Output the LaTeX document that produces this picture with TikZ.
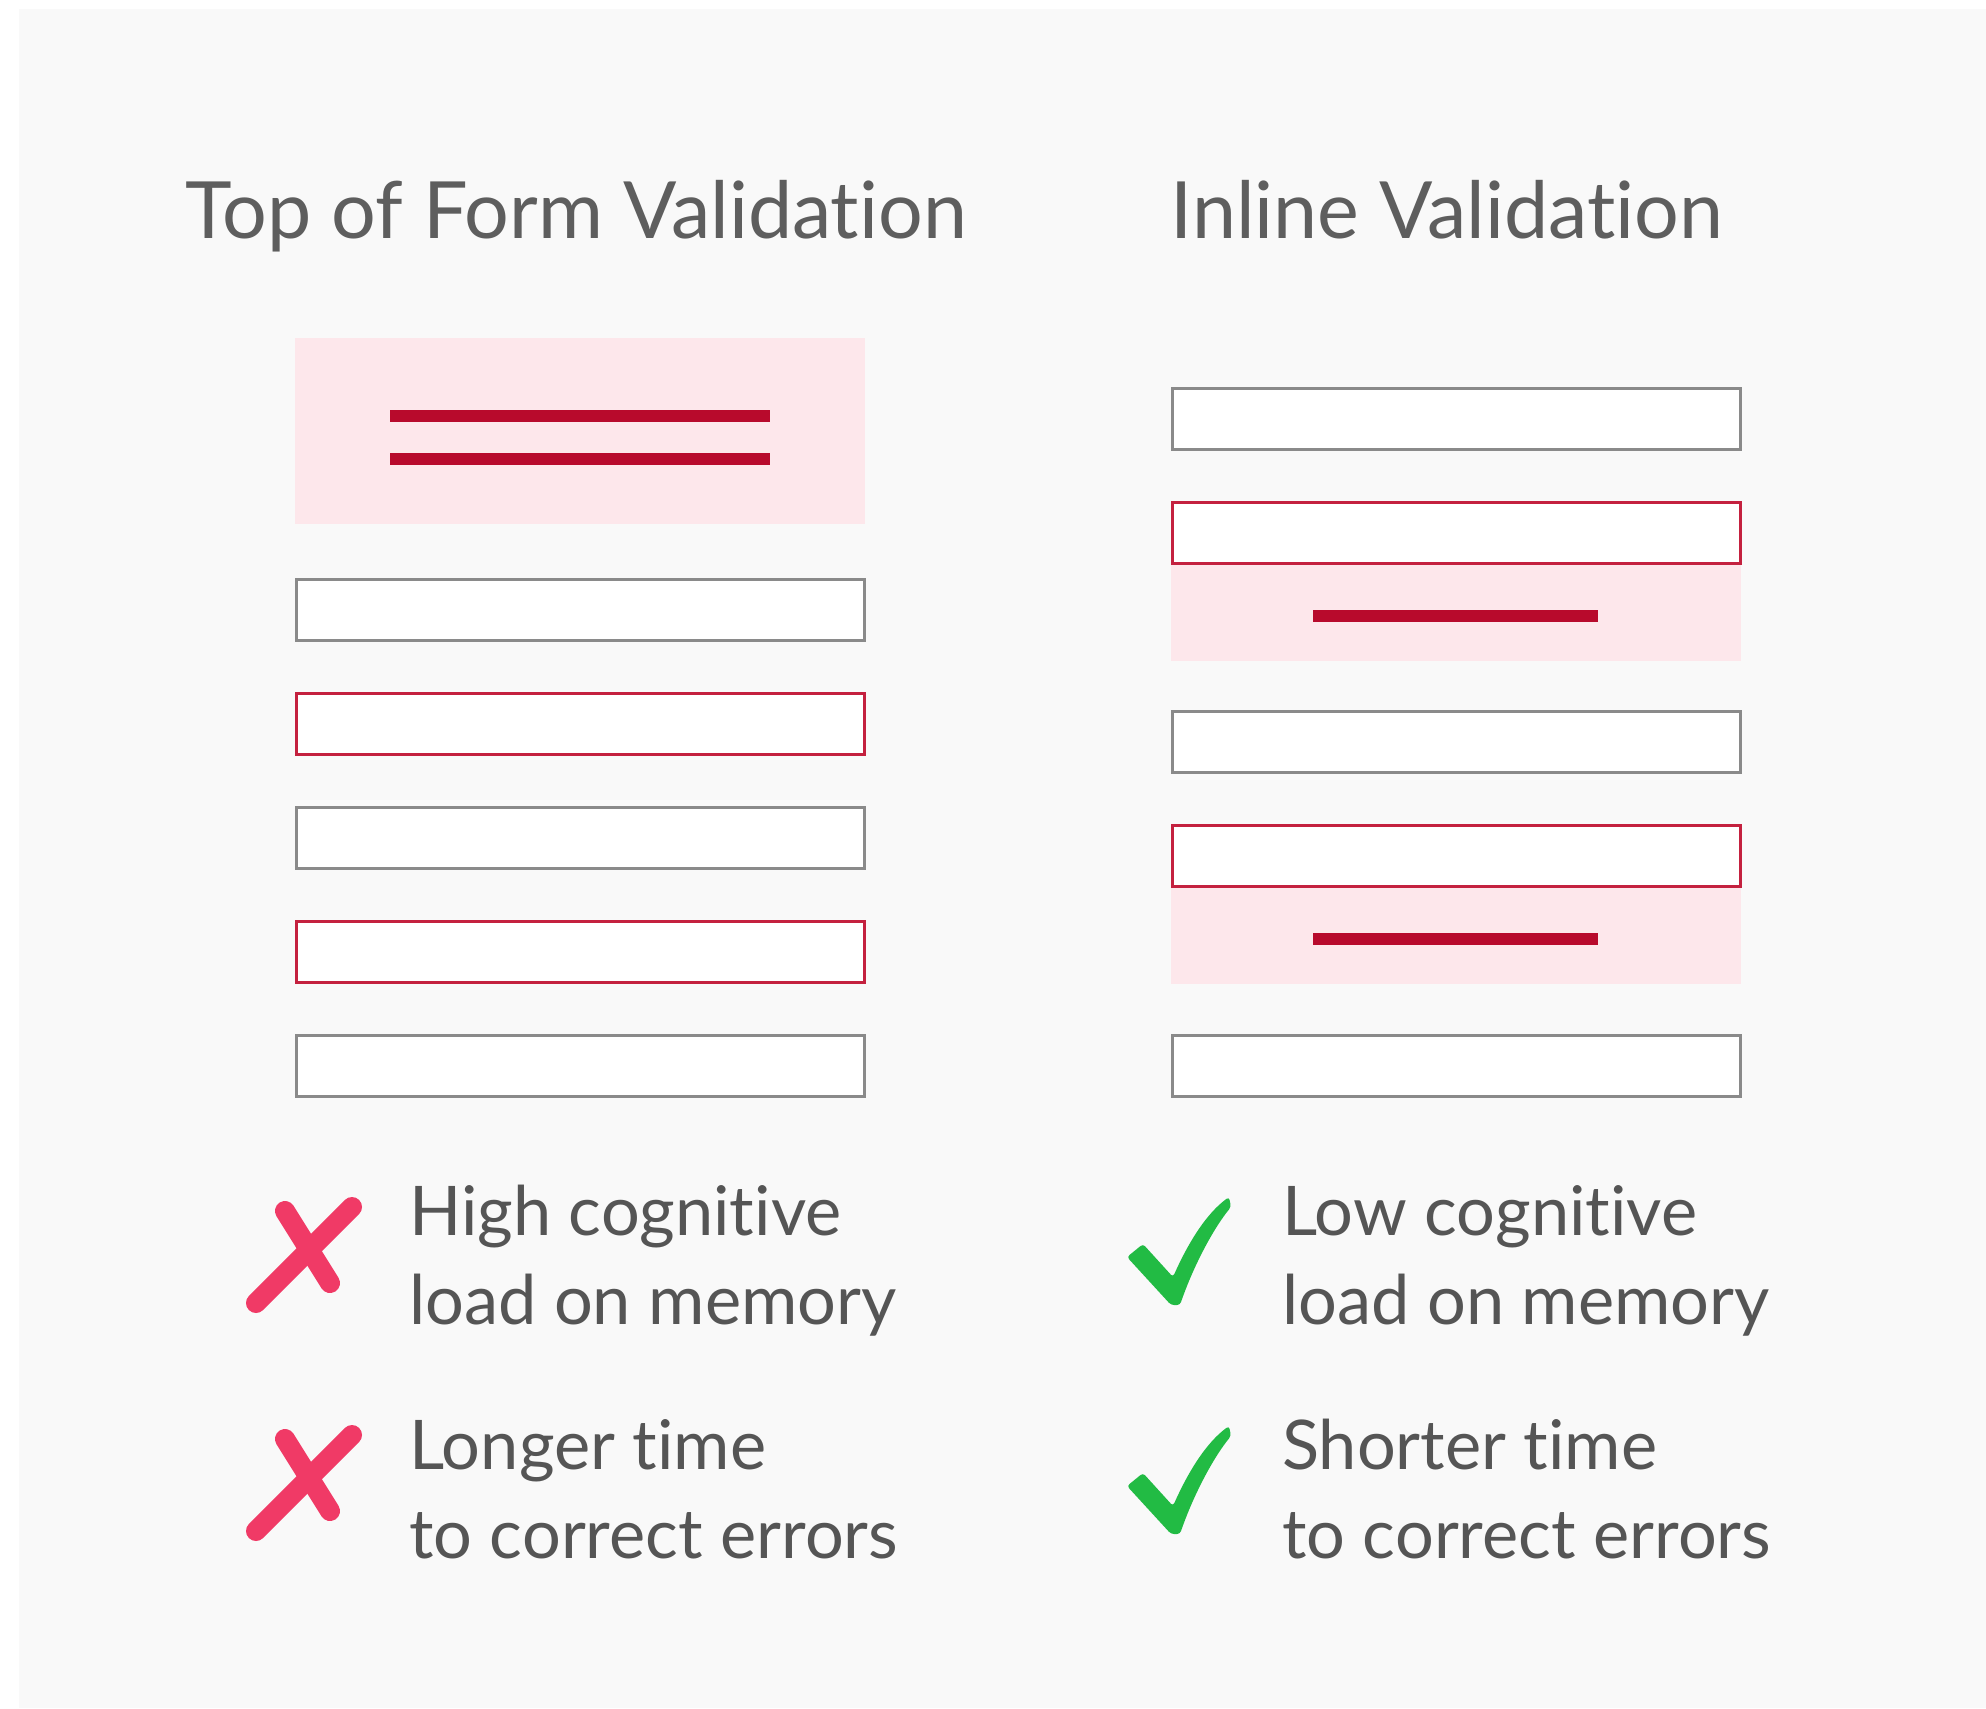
\documentclass[tikz,border=0pt]{standalone}
\usepackage{fontspec}
\setmainfont{Lato}[Ligatures={NoCommon}]
\definecolor{panel}{HTML}{F9F9F9}
\definecolor{pinkbg}{HTML}{FDE7EB}
\definecolor{errline}{HTML}{B80A2C}
\definecolor{errborder}{HTML}{C4213F}
\definecolor{okborder}{HTML}{8A8A8A}
\definecolor{txt}{HTML}{555555}
\definecolor{crossc}{HTML}{F03A66}
\definecolor{checkc}{HTML}{22BB44}
\begin{document}
\begin{tikzpicture}[x=1pt,y=-1pt,
  field/.style={draw=okborder, fill=white, line width=3pt, minimum width=568pt, minimum height=61pt, inner sep=0pt},
  errfield/.style={field, draw=errborder},
  pinkbox/.style={fill=pinkbg, draw=none, inner sep=0pt},
  errbar/.style={errline, line width=12pt, line cap=butt},
  title/.style={text=txt!95!white, font=\fontsize{79}{96}\selectfont, anchor=base, inner sep=0pt},
  body/.style={text=txt, font=\fontsize{68.5}{89}\selectfont, anchor=base west, inner sep=0pt, align=left},
  cross/.style={crossc, line width=20pt, line cap=round}
]
\useasboundingbox (0,0) rectangle (1986,1708);
\fill[white] (0,0) rectangle (1986,1708);
\fill[panel] (19,9) rectangle (1986,1708);

% titles
\node[title] (t1) at (576,238) {Top of Form Validation};
\node[title] (t2) at (1447,238) {Inline Validation};

% left column
\node[pinkbox, minimum width=570pt, minimum height=186pt] (pl) at (580,431) {};
\draw[errbar] (390,416) -- (770,416);
\draw[errbar] (390,459) -- (770,459);
\node[field] (l1) at (580,609.5) {};
\node[errfield] (l2) at (580,723.5) {};
\node[field] (l3) at (580,838) {};
\node[errfield] (l4) at (580,952) {};
\node[field] (l5) at (580,1066) {};

% right column
\node[pinkbox, minimum width=570pt, minimum height=159pt] (pr2) at (1456,581.5) {};
\node[pinkbox, minimum width=570pt, minimum height=159pt] (pr4) at (1456,904.5) {};
\node[field] (r1) at (1456,419) {};
\node[errfield] (r2) at (1456,533) {};
\draw[errbar] (1313,616) -- (1598,616);
\node[field] (r3) at (1456,742) {};
\node[errfield] (r4) at (1456,856) {};
\draw[errbar] (1313,939) -- (1598,939);
\node[field] (r5) at (1456,1066) {};

% crosses
\foreach \dy in {0,228}{
  \begin{scope}[yshift=-\dy pt]
    \draw[cross] (256,1303) -- (352,1207);
    \draw[cross] (285,1211) -- (330,1283);
  \end{scope}
}
% checks
\foreach \dy in {0,229}{
  \begin{scope}[shift={(1127,1197+\dy)}]
    \fill[checkc, rounded corners=3pt] (0,60) -- (16,47) -- (46,80) .. controls (62,44) and (80,16) .. (102,0)
      -- (104,10) .. controls (86,32) and (66,70) .. (53,108) -- (44,108) -- cycle;
  \end{scope}
}

% texts
\node[body] (a1) at (409,1235) {High cognitive};
\node[body] (a2) at (409,1324) {load on memory};
\node[body] (a3) at (409,1469) {Longer time};
\node[body] (a4) at (409,1558) {to correct errors};
\node[body] (b1) at (1282,1235) {Low cognitive};
\node[body] (b2) at (1282,1324) {load on memory};
\node[body] (b3) at (1282,1469) {Shorter time};
\node[body] (b4) at (1282,1558) {to correct errors};
\end{tikzpicture}
\end{document}
